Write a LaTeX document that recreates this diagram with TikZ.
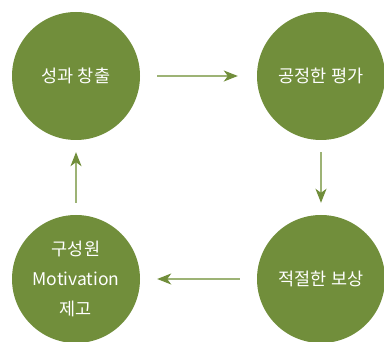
\documentclass[tikz,border=0pt]{standalone}
\usepackage{fontspec}
\setmainfont{Noto Sans CJK KR}
\usepackage{tikz}
\usetikzlibrary{arrows.meta, positioning}

\definecolor{leafgreen}{HTML}{718E3B}
\definecolor{stemgreen}{HTML}{9DB375}

\begin{document}
\begin{tikzpicture}[
        x=1pt, y=-1pt,
        stage/.style={circle, minimum size=128pt, inner sep=0pt, fill=leafgreen,
            text=white, align=center, font=\fontsize{17.5}{30}\selectfont},
        flow/.style={stemgreen, line width=1.4pt,
            -{Stealth[length=14pt, width=11pt, inset=4pt, color=leafgreen]}},
    ]

    \useasboundingbox (0, 0) rectangle (384, 342);

    %% ---- Cycle stages ----
    \node[stage] (perform) at (76, 76)   {성과 창출};
    \node[stage] (assess)  at (321, 76)  {공정한 평가};
    \node[stage] (reward)  at (321, 279) {적절한 보상};
    \node[stage] (motive)  at (76, 279)  {구성원\\Motivation\\제고};

    %% ---- Arrows ----
    \draw[flow, shorten <=17pt, shorten >=19pt] (perform) -- (assess);
    \draw[flow, shorten <=12pt, shorten >=12pt] (assess) -- (reward);
    \draw[flow, shorten <=17pt, shorten >=17pt] (reward) -- (motive);
    \draw[flow, shorten <=12pt, shorten >=12pt] (motive) -- (perform);

\end{tikzpicture}
\end{document}
